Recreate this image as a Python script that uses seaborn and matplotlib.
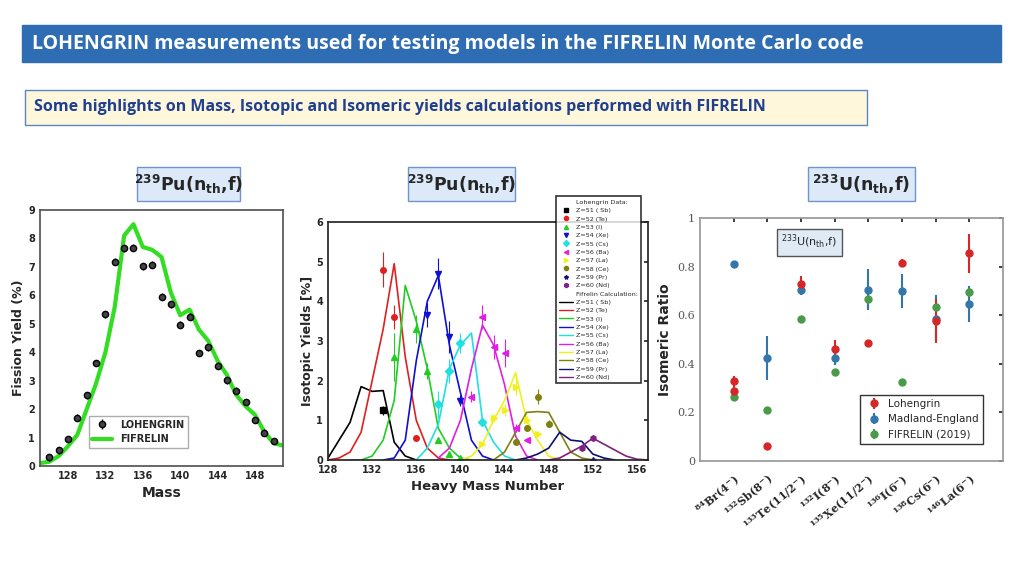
import matplotlib
matplotlib.use("Agg")
import matplotlib.pyplot as plt
from matplotlib.patches import Rectangle
from matplotlib.lines import Line2D
import seaborn as sns

sns.set_theme(style="white")
plt.rcParams['font.family'] = 'DejaVu Sans'
plt.rcParams['mathtext.default'] = 'regular'

# ---- panel 1 : 239Pu mass yields ----
mass_exp = list(range(126, 151))
yield_exp = [0.3, 0.55, 0.95, 1.7, 2.48, 3.62, 5.33, 7.18, 7.65, 7.68, 7.02, 7.08, 5.95,
             5.68, 4.97, 5.25, 3.97, 4.18, 3.52, 3.02, 2.65, 2.25, 1.62, 1.17, 0.88]
mass_calc = list(range(125, 152))
yield_calc = [0.1, 0.15, 0.35, 0.7, 1.1, 2.0, 2.9, 4.0, 5.6, 8.1, 8.5, 7.7, 7.6, 7.35,
              6.1, 5.3, 5.5, 4.8, 4.4, 3.7, 3.2, 2.5, 2.1, 1.8, 1.2, 0.8, 0.72]

# ---- panel 2 : 239Pu isotopic yields ----
elements = ["Z=51 ( Sb)", "Z=52 (Te)", "Z=53 (I)", "Z=54 (Xe)", "Z=55 (Cs)",
            "Z=56 (Ba)", "Z=57 (La)", "Z=58 (Ce)", "Z=59 (Pr)", "Z=60 (Nd)"]
el_colors = ["black", "#e02020", "#22cc22", "#1010d0", "#20e0e0",
             "#e020e0", "#f0f020", "#808010", "#101070", "#802080"]
el_markers = ["s", "o", "^", "v", "D", "<", ">", "o", "*", "h"]
calc_start = [128, 128, 130, 133, 136, 138, 140, 143, 145, 148]
calc_vals = [
    [0.05, 0.5, 0.95, 1.85, 1.73, 1.75, 0.45, 0.1, 0.0],
    [0, 0.05, 0.2, 0.7, 2.0, 3.3, 4.95, 2.6, 1.0, 0.3, 0.05, 0],
    [0, 0, 0.1, 0.5, 1.5, 4.4, 3.5, 2.3, 0.8, 0.3, 0.05, 0],
    [0, 0.05, 0.5, 2.5, 4.0, 4.65, 2.9, 1.7, 0.5, 0.1, 0],
    [0, 0.3, 0.9, 2.3, 2.9, 3.2, 1.0, 0.45, 0.1, 0],
    [0.05, 0.3, 1.0, 2.3, 3.4, 2.9, 1.9, 0.6, 0.1, 0],
    [0, 0.1, 0.4, 1.0, 1.5, 2.2, 1.0, 0.5, 0.1, 0],
    [0, 0.2, 0.7, 1.2, 1.22, 1.2, 0.7, 0.2, 0.05, 0],
    [0, 0.05, 0.15, 0.3, 0.7, 0.5, 0.47, 0.15, 0.05, 0],
    [0, 0.05, 0.2, 0.35, 0.55, 0.4, 0.25, 0.1, 0.02, 0],
]
exp_mass = [[133], [133, 134, 136], [134, 136, 137, 138, 139, 140], [137, 138, 139, 140],
            [138, 139, 140, 142], [141, 142, 143, 144, 145, 146],
            [142, 143, 144, 145, 146, 147], [145, 146, 147, 148], [152], [151, 152]]
exp_vals = [[1.25], [4.8, 3.6, 0.55], [2.6, 3.3, 2.25, 0.5, 0.15, 0.05], [3.65, 4.7, 3.1, 1.5],
            [1.4, 2.25, 2.95, 0.95], [1.6, 3.6, 2.85, 2.7, 0.8, 0.5],
            [0.4, 1.05, 1.25, 1.85, 1.0, 0.65], [0.45, 0.8, 1.6, 0.92], [0.0], [0.3, 0.55]]
exp_err = [[0.12], [0.45, 0.3, 0.05], [0.6, 0.35, 0.2, 0.05, 0.02, 0.02], [0.3, 0.4, 0.4, 0.15],
           [0.35, 0.3, 0.25, 0.1], [0.15, 0.3, 0.3, 0.35, 0.1, 0.05],
           [0.05, 0.1, 0.15, 0.2, 0.1, 0.08], [0.05, 0.08, 0.2, 0.1], [0.0], [0.05, 0.05]]

# ---- panel 3 : 233U isomeric ratios ----
isomers = [r"$^{84}$Br(4$^{-}$)", r"$^{132}$Sb(8$^{-}$)", r"$^{133}$Te(11/2$^{-}$)",
           r"$^{132}$I(8$^{-}$)", r"$^{135}$Xe(11/2$^{-}$)", r"$^{136}$I(6$^{-}$)",
           r"$^{138}$Cs(6$^{-}$)", r"$^{146}$La(6$^{-}$)"]
loh_pos = [0, 0, 1, 2, 3, 4, 5, 6, 7]
loh_val = [0.33, 0.29, 0.06, 0.73, 0.46, 0.485, 0.815, 0.575, 0.855]
loh_err = [0.02, 0.02, 0.0, 0.03, 0.04, 0.0, 0.015, 0.09, 0.08]
me_val = [0.81, 0.425, 0.705, 0.425, 0.705, 0.70, 0.585, 0.645]
me_err = [0.0, 0.09, 0.02, 0.03, 0.085, 0.07, 0.1, 0.075]
fif_val = [0.265, 0.21, 0.585, 0.365, 0.665, 0.325, 0.635, 0.695]
fif_err = [0.0, 0.0, 0.0, 0.0, 0.04, 0.0, 0.0, 0.02]

fig = plt.figure(figsize=(10.24, 5.76), dpi=100)
fig.patch.set_facecolor("white")

def fbox(x0, y0, x1, y1, face, edge, lw=1.0):
    fig.patches.append(Rectangle((x0 / 1024, 1 - y1 / 576), (x1 - x0) / 1024, (y1 - y0) / 576,
                                 transform=fig.transFigure, facecolor=face, edgecolor=edge,
                                 linewidth=lw, zorder=0))

fbox(22, 25, 1001, 62, "#2e6db4", "#2e6db4")
fig.text(32 / 1024, 1 - 44 / 576, "LOHENGRIN measurements used for testing models in the FIFRELIN Monte Carlo code",
         color="white", fontsize=14, fontweight="bold", va="center", family="Open Sans")
fbox(25, 90, 867, 125, "#fff7dc", "#5b86c4")
fig.text(34 / 1024, 1 - 107 / 576, "Some highlights on Mass, Isotopic and Isomeric yields calculations performed with FIFRELIN",
         color="#1f3f8f", fontsize=11.5, fontweight="bold", va="center", family="Open Sans")
for (x0, x1, lab) in [(137, 240, r"$^{239}$Pu(n$_{th}$,f)"), (408, 515, r"$^{239}$Pu(n$_{th}$,f)"),
                      (808, 915, r"$^{233}$U(n$_{th}$,f)")]:
    fbox(x0, 167, x1, 201, "#dce9f8", "#6f94cc")
    fig.text((x0 + x1) / 2048, 1 - 184 / 576, lab, fontsize=12.5, fontweight="bold",
             ha="center", va="center")

# panel 1
ax1 = fig.add_axes([40 / 1024, 1 - 466 / 576, 243 / 1024, 256 / 576])
sns.lineplot(x=mass_calc, y=yield_calc, color="#33dd22", lw=3, ax=ax1, label="FIFRELIN")
ax1.errorbar(mass_exp, yield_exp, yerr=0.12, fmt="o", color="black", ms=4.5,
             mec="black", mfc="#444444", elinewidth=1, label="LOHENGRIN")
ax1.set_xlim(125, 151)
ax1.set_ylim(0, 9)
ax1.set_xticks(range(128, 152, 4))
ax1.set_yticks(range(0, 10))
ax1.set_xlabel("Mass", fontsize=10, fontweight="bold")
ax1.set_ylabel("Fission Yield (%)", fontsize=9, fontweight="bold", labelpad=2)
ax1.tick_params(labelsize=7, length=3, direction="in")
for t in ax1.get_xticklabels() + ax1.get_yticklabels():
    t.set_fontweight("bold")
h, l = ax1.get_legend_handles_labels()
ax1.legend(h[::-1], l[::-1], loc="lower left", bbox_to_anchor=(0.18, 0.05), fontsize=7,
           frameon=True, fancybox=False, edgecolor="#999999", prop={"weight": "bold", "size": 7})
for s in ax1.spines.values():
    s.set_color("#555555")

# panel 2
ax2 = fig.add_axes([328 / 1024, 1 - 460 / 576, 320 / 1024, 238 / 576])
for i, el in enumerate(elements):
    xs = list(range(calc_start[i], calc_start[i] + len(calc_vals[i])))
    sns.lineplot(x=xs, y=calc_vals[i], color=el_colors[i], lw=1.2, ax=ax2)
for i, el in enumerate(elements):
    ax2.errorbar(exp_mass[i], exp_vals[i], yerr=exp_err[i], fmt=el_markers[i], color=el_colors[i],
                 ms=4, elinewidth=0.8)
ax2.set_xlim(128, 157)
ax2.set_ylim(0, 6)
ax2.set_xticks(range(128, 158, 4))
ax2.set_xlabel("Heavy Mass Number", fontsize=9.5, fontweight="bold")
ax2.set_ylabel("Isotopic Yields [%]", fontsize=9, fontweight="bold", labelpad=2)
ax2.tick_params(labelsize=7, length=3, direction="in", right=True)
for t in ax2.get_xticklabels() + ax2.get_yticklabels():
    t.set_fontweight("bold")
blank = Line2D([], [], lw=0)
handles = [blank] + [Line2D([], [], ls="", marker=el_markers[i], color=el_colors[i], ms=3) for i in range(10)]
handles += [blank] + [Line2D([], [], color=el_colors[i], lw=1) for i in range(10)]
labels = ["Lohengrin Data:"] + elements + ["Fifrelin Calculation:"] + elements
leg = fig.legend(handles, labels, loc="upper left", bbox_to_anchor=(553 / 1024, 1 - 193 / 576),
                 fontsize=4.6, frameon=True, fancybox=False, edgecolor="black", handlelength=2.2,
                 labelspacing=0.45, borderpad=0.5, handletextpad=0.4)
leg.get_frame().set_linewidth(1.2)

# panel 3
ax3 = fig.add_axes([700 / 1024, 1 - 461 / 576, 303 / 1024, 243 / 576])
pos = list(range(len(isomers)))
ax3.errorbar(pos, fif_val, yerr=fif_err, fmt="o", color="#4a9a4a", ms=5, elinewidth=1.5, label="FIFRELIN (2019)")
ax3.errorbar(pos, me_val, yerr=me_err, fmt="o", color="#3377aa", ms=5, elinewidth=1.5, label="Madland-England")
ax3.errorbar(loh_pos, loh_val, yerr=loh_err, fmt="o", color="#d62728", ms=5, elinewidth=1.5, label="Lohengrin")
ax3.set_xlim(-1, 8)
ax3.set_ylim(0, 1)
ax3.set_xticks(pos)
ax3.set_xticklabels(isomers, rotation=40, ha="right", rotation_mode="anchor", fontsize=8,
                    family="DejaVu Serif", fontweight="bold")
ax3.tick_params(axis="x", pad=8)
ax3.set_yticks([0, 0.2, 0.4, 0.6, 0.8, 1])
ax3.set_yticklabels(["0", "0.2", "0.4", "0.6", "0.8", "1"], family="DejaVu Serif", color="#555555")
ax3.set_ylabel("Isomeric Ratio", fontsize=10, fontweight="bold")
ax3.tick_params(labelsize=8, length=3, direction="in", top=True, right=True)
for s in ax3.spines.values():
    s.set_color("#999999")
h, l = ax3.get_legend_handles_labels()
ax3.legend(h[::-1], l[::-1], loc="lower right", bbox_to_anchor=(0.95, 0.05), fontsize=7.5,
           fancybox=False, edgecolor="black", handletextpad=0.3, borderpad=0.4)
ax3.text(2.25, 0.9, r"$^{233}$U(n$_{th}$,f)", fontsize=8, ha="center", va="center",
         bbox=dict(boxstyle="square,pad=0.4", facecolor="#dfeaf5", edgecolor="#555555"))

fig.savefig("out.png", dpi=100)
